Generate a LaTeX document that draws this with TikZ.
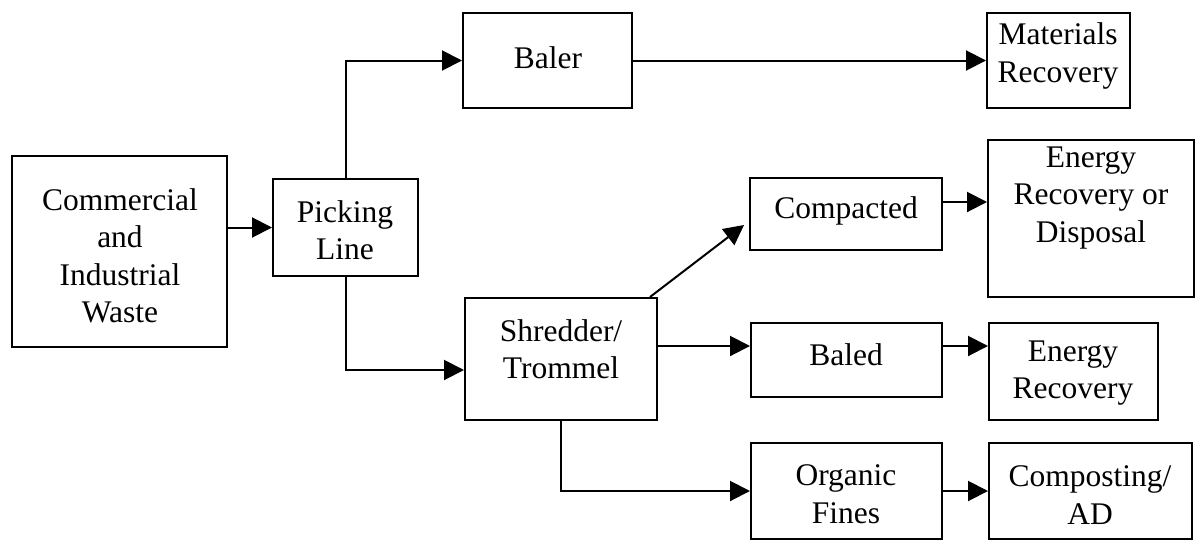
\documentclass[tikz,border=0pt]{standalone}
\usepackage{fontspec}
\setmainfont{Liberation Serif}
\usetikzlibrary{arrows.meta,fit,calc}
\begin{document}
\begin{tikzpicture}[x=0.5pt,y=-0.5pt,
  box/.style={draw, line width=1pt, inner sep=0pt, rectangle},
  lbl/.style={align=center, font=\fontsize{15.75pt}{18.75pt}\selectfont, inner sep=0pt},
  flow/.style={line width=1pt, -{Triangle[length=10pt,width=10pt]}}]
\useasboundingbox (0,0) rectangle (1198,541);
% boxes
\node[box, fit={(12,156) (227,347)}] (ciw) {};
\node[box, fit={(273,179) (418,276)}] (pick) {};
\node[box, fit={(463,13) (632,108)}] (baler) {};
\node[box, fit={(987,13) (1130,108)}] (mat) {};
\node[box, fit={(750,178) (942,250)}] (comp) {};
\node[box, fit={(988,140) (1194,297)}] (ed) {};
\node[box, fit={(465,298) (657,420)}] (shred) {};
\node[box, fit={(751,323) (942,397)}] (baled) {};
\node[box, fit={(989,323) (1158,420)}] (er) {};
\node[box, fit={(751,443) (942,539)}] (org) {};
\node[box, fit={(989,443) (1192,539)}] (compost) {};
% labels
\node[lbl] (ciwt) at (120,256) {Commercial\\and\\Industrial\\Waste};
\node[lbl] (pickt) at (345,230) {Picking\\Line};
\node[lbl] (balert) at (548,58) {Baler};
\node[lbl] (matt) at (1058,56) {Materials\\Recovery};
\node[lbl] (compt) at (846,211) {Compacted};
\node[lbl] (edt) at (1091,198) {Energy\\Recovery or\\Disposal};
\node[lbl] (shredt) at (561,349) {Shredder/\\Trommel};
\node[lbl] (baledt) at (846,355) {Baled};
\node[lbl] (ert) at (1073,373) {Energy\\Recovery};
\node[lbl] (orgt) at (846,494) {Organic\\Fines};
\node[lbl] (compostt) at (1090,495) {Composting/\\AD};
% connectors
\draw[flow] (ciw.east |- pick.west) -- (pick.west);
\draw[flow] (pick.north) |- (baler.west);
\draw[flow] (baler.east) -- (mat.west);
\coordinate (s0) at ([yshift=-5.5pt]shred.west);
\draw[flow] (pick.south) |- (s0);
\coordinate (dtip) at ([xshift=-2.5pt,yshift=-5.5pt]comp.west);
\draw[flow] ([xshift=-4pt]shred.north east) -- (dtip);
\coordinate (c1) at ([yshift=6pt]comp.east);
\draw[flow] (c1) -- (c1 -| ed.west);
\coordinate (s1) at ([yshift=6.5pt]shred.east);
\draw[flow] (s1) -- (s1 -| baled.west);
\draw[flow] (s1 -| baled.east) -- (s1 -| er.west);
\draw[flow] (shred.south) |- (org.west);
\draw[flow] (org.east) -- (compost.west);
\end{tikzpicture}
\end{document}
